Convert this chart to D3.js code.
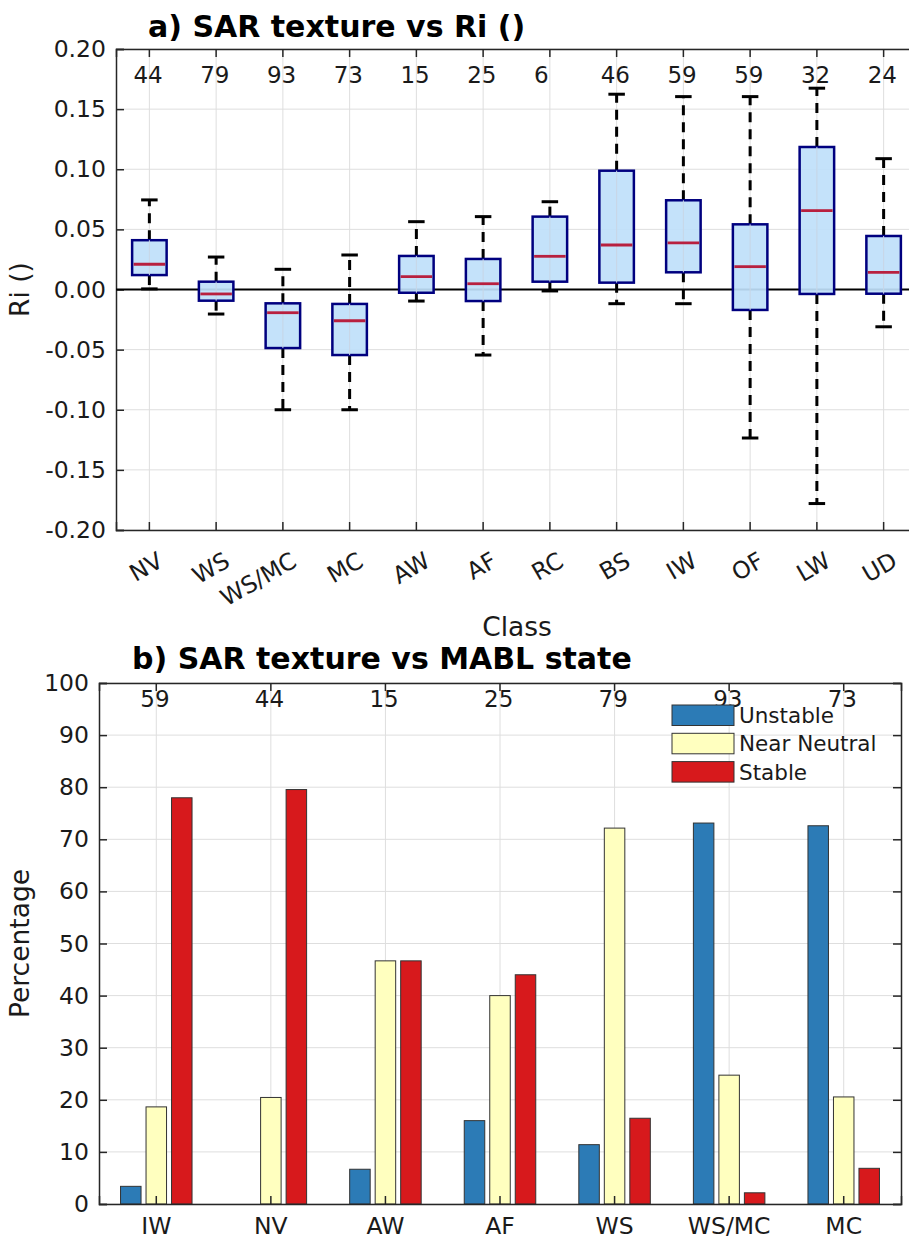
<!DOCTYPE html>
<html>
<head>
<meta charset="utf-8">
<script src="https://cdn.jsdelivr.net/npm/d3@7"></script>
<style>
  html, body { margin: 0; padding: 0; background: #fff; overflow: hidden; }
  svg { display: block; font-family: "DejaVu Sans", sans-serif; }
</style>
</head>
<body>
<svg id="chart" width="909" height="1239"></svg>
<script>
// ---------- Panel a data ----------
const classesA = ["NV","WS","WS/MC","MC","AW","AF","RC","BS","IW","OF","LW","UD"];
const countsA = [44,79,93,73,15,25,6,46,59,59,32,24];
const whiskerLowA  = [0.0005,-0.0204,-0.100,-0.100,-0.0096,-0.0545,-0.0012,-0.0118,-0.0118,-0.1235,-0.178,-0.031];
const q1A          = [0.012,-0.0093,-0.0487,-0.0545,-0.0027,-0.0096,0.0065,0.0057,0.0143,-0.017,-0.0037,-0.0035];
const medianA      = [0.021,-0.0037,-0.0193,-0.026,0.0107,0.0048,0.0276,0.037,0.0387,0.019,0.0656,0.0143];
const q3A          = [0.041,0.0065,-0.0115,-0.012,0.0279,0.0254,0.0606,0.0988,0.0742,0.0542,0.1185,0.0445];
const whiskerHighA = [0.0745,0.027,0.0168,0.0287,0.0564,0.0606,0.073,0.1624,0.1604,0.1604,0.1674,0.1088];
const yTicksA = [-0.20,-0.15,-0.10,-0.05,0.00,0.05,0.10,0.15,0.20];

// ---------- Panel b data ----------
const classesB = ["IW","NV","AW","AF","WS","WS/MC","MC"];
const countsB = [59,44,15,25,79,93,73];
const seriesNames = ["Unstable","Near Neutral","Stable"];
const unstableB    = [3.39,0,6.67,16.0,11.39,73.12,72.60];
const nearNeutralB = [18.64,20.45,46.67,40.0,72.15,24.73,20.55];
const stableB      = [77.97,79.55,46.67,44.0,16.46,2.15,6.85];
const seriesColors = ["#2c7bb6","#ffffbf","#d7191c"];
const yTicksB = [0,10,20,30,40,50,60,70,80,90,100];

const svg = d3.select("#chart");
const FS = 23.5;      // tick labels
const FC = 23;        // counts
const FL = 26.5;      // axis labels
const FT = 30;        // titles
const axisColor = "#262626";
const gridColor = "#dedede";
const txtColor = "#1a1a1a";

// ================= Panel a =================
const A = {left:116, right:917, top:49, bottom:530};
const xA = d3.scaleBand().domain(classesA).range([A.left, A.right]).padding(0);
const yA = d3.scaleLinear().domain([-0.2, 0.2]).range([A.bottom, A.top]);
const cx = c => xA(c) + xA.bandwidth()/2;
const gA = svg.append("g");

// grid
gA.append("g").selectAll("line").data(yTicksA).join("line")
  .attr("x1", A.left).attr("x2", A.right)
  .attr("y1", d => yA(d)).attr("y2", d => yA(d))
  .attr("stroke", gridColor).attr("stroke-width", 1);
gA.append("g").selectAll("line").data(classesA).join("line")
  .attr("x1", cx).attr("x2", cx)
  .attr("y1", A.top).attr("y2", A.bottom)
  .attr("stroke", gridColor).attr("stroke-width", 1);

// axes
const axLA = gA.append("g").attr("transform", `translate(${A.left},0)`)
  .call(d3.axisLeft(yA).tickValues(yTicksA).tickFormat(d3.format(".2f")).tickSize(-8).tickPadding(10));
const axBA = gA.append("g").attr("transform", `translate(0,${A.bottom})`)
  .call(d3.axisBottom(xA).tickSize(-8).tickFormat(""));
const axTA = gA.append("g").attr("transform", `translate(0,${A.top})`)
  .call(d3.axisTop(xA).tickSize(-8).tickFormat(""));
[axLA, axBA, axTA].forEach(a => {
  a.select(".domain").attr("stroke", axisColor).attr("stroke-width", 1.5);
  a.selectAll(".tick line").attr("stroke", axisColor).attr("stroke-width", 1.5);
  a.selectAll("text").attr("font-size", FS).attr("fill", txtColor).attr("font-family", "DejaVu Sans");
});
axLA.selectAll("text").text(d => d3.format(".2f")(d).replace("−","-"));

// rotated x labels
gA.append("g").selectAll("text").data(classesA).join("text")
  .attr("transform", d => `translate(${cx(d)+7},${A.bottom+21}) rotate(-30)`)
  .attr("text-anchor", "end").attr("dy", "0.71em")
  .attr("font-size", FS).attr("fill", txtColor).text(d => d);

// zero line
gA.append("line").attr("x1", A.left).attr("x2", A.right)
  .attr("y1", yA(0)).attr("y2", yA(0)).attr("stroke", "#000").attr("stroke-width", 2);

// boxes
const boxW = 34.5, capW = 16.5;
const bx = gA.append("g").selectAll("g").data(classesA).join("g");
bx.append("line").attr("x1", cx).attr("x2", cx)
  .attr("y1", (d,i) => yA(q3A[i])).attr("y2", (d,i) => yA(whiskerHighA[i]))
  .attr("stroke", "#000").attr("stroke-width", 3).attr("stroke-dasharray", "10,7");
bx.append("line").attr("x1", cx).attr("x2", cx)
  .attr("y1", (d,i) => yA(q1A[i])).attr("y2", (d,i) => yA(whiskerLowA[i]))
  .attr("stroke", "#000").attr("stroke-width", 3).attr("stroke-dasharray", "10,7");
bx.append("line").attr("x1", d => cx(d)-capW/2).attr("x2", d => cx(d)+capW/2)
  .attr("y1", (d,i) => yA(whiskerHighA[i])).attr("y2", (d,i) => yA(whiskerHighA[i]))
  .attr("stroke", "#000").attr("stroke-width", 3);
bx.append("line").attr("x1", d => cx(d)-capW/2).attr("x2", d => cx(d)+capW/2)
  .attr("y1", (d,i) => yA(whiskerLowA[i])).attr("y2", (d,i) => yA(whiskerLowA[i]))
  .attr("stroke", "#000").attr("stroke-width", 3);
bx.append("rect").attr("x", d => cx(d)-boxW/2).attr("width", boxW)
  .attr("y", (d,i) => yA(q3A[i])).attr("height", (d,i) => yA(q1A[i]) - yA(q3A[i]))
  .attr("fill", "#bfdffa").attr("fill-opacity", 0.92).attr("stroke", "#00007f").attr("stroke-width", 2.5);
bx.append("line").attr("x1", cx).attr("x2", cx)
  .attr("y1", (d,i) => yA(q3A[i])).attr("y2", (d,i) => yA(q1A[i]))
  .attr("stroke", "#c8d6e6").attr("stroke-width", 1);
bx.append("line").attr("x1", d => cx(d)-boxW/2+1.5).attr("x2", d => cx(d)+boxW/2-1.5)
  .attr("y1", (d,i) => yA(medianA[i])).attr("y2", (d,i) => yA(medianA[i]))
  .attr("stroke", "#b8203f").attr("stroke-width", 2.8);

// counts
gA.append("g").selectAll("text").data(classesA).join("text")
  .attr("x", d => cx(d) - 16).attr("y", 83)
  .attr("font-size", FC).attr("fill", txtColor).text((d,i) => countsA[i]);

// title + labels
svg.append("text").attr("x", 148).attr("y", 37).attr("font-size", FT).attr("font-weight", "bold")
  .text("a) SAR texture vs Ri ()");
svg.append("text").attr("transform", `translate(29,${(A.top+A.bottom)/2}) rotate(-90)`)
  .attr("text-anchor", "middle").attr("font-size", FL).attr("fill", txtColor).text("Ri ()");
svg.append("text").attr("x", 517).attr("y", 636).attr("text-anchor", "middle")
  .attr("font-size", FL).attr("fill", txtColor).text("Class");

// ================= Panel b =================
const B = {left:99, right:901, top:683, bottom:1204};
const xB = d3.scaleBand().domain(classesB).range([B.left, B.right]).padding(0);
const cxB = c => xB(c) + xB.bandwidth()/2;
const xS = d3.scalePoint().domain(seriesNames).range([-25.5, 25.5]);
const yB = d3.scaleLinear().domain([0, 100]).range([B.bottom, B.top]);
const gB = svg.append("g");

gB.append("g").selectAll("line").data(yTicksB).join("line")
  .attr("x1", B.left).attr("x2", B.right)
  .attr("y1", d => yB(d)).attr("y2", d => yB(d))
  .attr("stroke", gridColor).attr("stroke-width", 1);
gB.append("g").selectAll("line").data(classesB).join("line")
  .attr("x1", cxB).attr("x2", cxB)
  .attr("y1", B.top).attr("y2", B.bottom)
  .attr("stroke", gridColor).attr("stroke-width", 1);

const seriesVals = [unstableB, nearNeutralB, stableB];
const barW = 20.5;
seriesNames.forEach((s, si) => {
  gB.append("g").selectAll("rect").data(classesB).join("rect")
    .attr("x", d => cxB(d) + xS(s) - barW/2).attr("width", barW)
    .attr("y", (d,i) => yB(seriesVals[si][i]))
    .attr("height", (d,i) => yB(0) - yB(seriesVals[si][i]))
    .attr("fill", seriesColors[si]).attr("stroke", "#333").attr("stroke-width", 1)
    .attr("display", (d,i) => seriesVals[si][i] > 0 ? null : "none");
});

const axLB = gB.append("g").attr("transform", `translate(${B.left},0)`)
  .call(d3.axisLeft(yB).tickValues(yTicksB).tickSize(-8).tickPadding(10));
const axRB = gB.append("g").attr("transform", `translate(${B.right},0)`)
  .call(d3.axisRight(yB).tickValues(yTicksB).tickSize(-8).tickFormat(""));
const axBB = gB.append("g").attr("transform", `translate(0,${B.bottom})`)
  .call(d3.axisBottom(xB).tickSize(-8).tickPadding(13));
const axTB = gB.append("g").attr("transform", `translate(0,${B.top})`)
  .call(d3.axisTop(xB).tickSize(-8).tickFormat(""));
[axLB, axRB, axBB, axTB].forEach(a => {
  a.select(".domain").attr("stroke", axisColor).attr("stroke-width", 1.5);
  a.selectAll(".tick line").attr("stroke", axisColor).attr("stroke-width", 1.5);
  a.selectAll("text").attr("font-size", FS).attr("fill", txtColor).attr("font-family", "DejaVu Sans");
});

gB.append("g").selectAll("text").data(classesB).join("text")
  .attr("x", d => cxB(d) - 16).attr("y", 707)
  .attr("font-size", FC).attr("fill", txtColor).text((d,i) => countsB[i]);

// legend (no background, as in the reference)
const lg = gB.append("g");
seriesNames.forEach((s, si) => {
  const y0 = 705 + si * 28.3;
  lg.append("rect").attr("x", 672).attr("y", y0).attr("width", 62).attr("height", 20.5)
    .attr("fill", seriesColors[si]).attr("stroke", "#333").attr("stroke-width", 1);
  lg.append("text").attr("x", 739).attr("y", y0 + 18).attr("font-size", 21.5).attr("fill", txtColor).text(s);
});

svg.append("text").attr("x", 132).attr("y", 669).attr("font-size", FT).attr("font-weight", "bold")
  .text("b) SAR texture vs MABL state");
svg.append("text").attr("transform", `translate(29,${(B.top+B.bottom)/2}) rotate(-90)`)
  .attr("text-anchor", "middle").attr("font-size", FL).attr("fill", txtColor).text("Percentage");
</script>
</body>
</html>
